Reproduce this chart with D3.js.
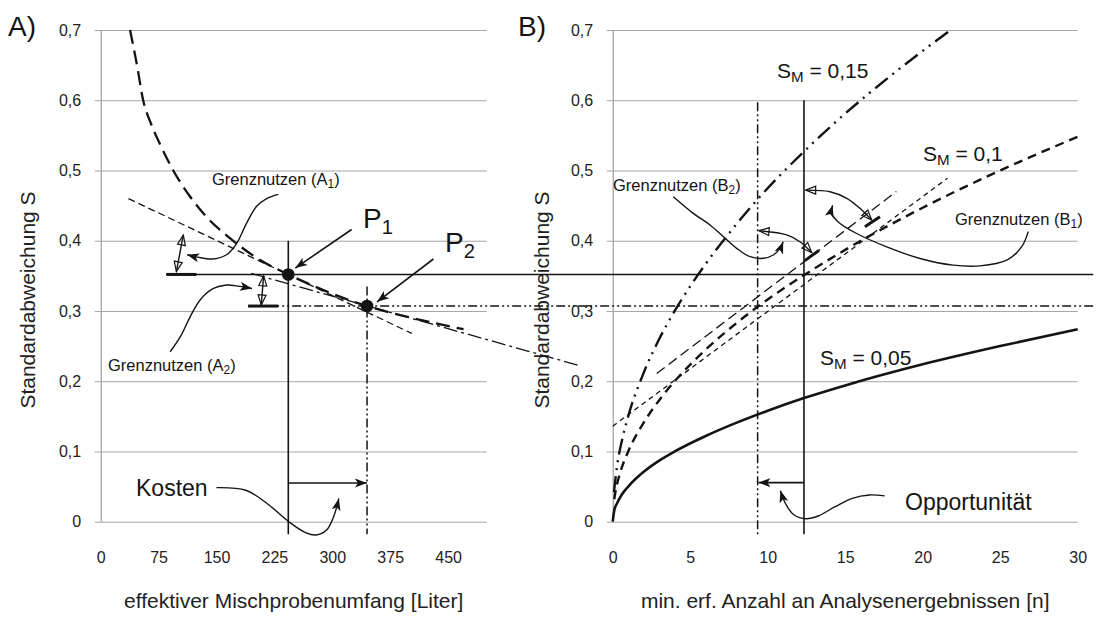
<!DOCTYPE html>
<html>
<head>
<meta charset="utf-8">
<script src="https://cdnjs.cloudflare.com/ajax/libs/d3/7.8.5/d3.min.js"></script>
<style>
  body { margin: 0; background: #fff; }
  svg { display: block; font-family: "Liberation Sans", Arial, sans-serif; }
</style>
</head>
<body>
<svg id="chart" width="1099" height="617"></svg>
<script>
// ---- data ----
const yTicks = [0, 0.1, 0.2, 0.3, 0.4, 0.5, 0.6, 0.7];
const xTicksA = [0, 75, 150, 225, 300, 375, 450];
const xTicksB = [0, 5, 10, 15, 20, 25, 30];

// panel A: liters vs. standard deviation
const curveA = [[38, 0.70], [47, 0.65], [55, 0.60], [65, 0.567], [77, 0.537], [94, 0.50], [115, 0.464],
                [137, 0.434], [167, 0.404], [200, 0.377], [243, 0.352], [290, 0.329], [345, 0.307],
                [400, 0.291], [470, 0.274]];
const tangentP1 = [[36, 0.46], [403, 0.268]];
const tangentP2 = [[195, 0.3535], [621, 0.222]];
const p1 = [243, 0.352];
const p2 = [345, 0.307];

// panel B: number of results vs. standard deviation, one series per S_M
const sm005 = [[0, 0], [0.1, 0.016], [0.3, 0.027], [0.6, 0.039], [1, 0.05], [2, 0.071], [3, 0.087], [4, 0.1],
               [6, 0.122], [8, 0.141], [10, 0.158], [12.34, 0.176], [15, 0.194], [20, 0.224], [25, 0.25], [30, 0.274]];
const sm01 = [[0.1, 0.032], [0.2, 0.045], [0.5, 0.071], [1, 0.1], [2, 0.141], [3, 0.173], [4, 0.2], [6, 0.245],
              [8, 0.283], [9.35, 0.306], [12.34, 0.351], [15, 0.387], [20, 0.447], [25, 0.5], [30, 0.548]];
const sm015 = [[0.08, 0.042], [0.3, 0.082], [0.6, 0.116], [1, 0.15], [2, 0.212], [3, 0.26], [4, 0.3], [6, 0.367],
               [8, 0.424], [9.35, 0.459], [12.34, 0.527], [15, 0.581], [18, 0.636], [21.8, 0.7]];
const tangentB1 = [[0, 0.136], [21.6, 0.489]];
const tangentB2 = [[2.84, 0.211], [18.3, 0.47]];
const nMin = 9.35;
const nOpt = 12.34;

// annotation paths (data coordinates)
const calloutA1 = [[230, 0.466], [215, 0.46], [202, 0.449], [189, 0.425], [176, 0.396], [163, 0.38], [146, 0.374], [124, 0.377], [112, 0.38]];
const calloutA2 = [[90, 0.242], [103, 0.263], [116, 0.292], [129, 0.316], [146, 0.332], [163, 0.337], [180, 0.335], [196, 0.332]];
const gapA1 = [[98, 0.356], [107, 0.408]];
const barA1 = [[85, 0.352], [124, 0.352]];
const gapA2 = [[208, 0.3085], [211, 0.35]];
const barA2 = [[191, 0.307], [230, 0.307]];
const arrowP1 = [[325, 0.416], [252, 0.361]];
const arrowP2 = [[431, 0.374], [358, 0.313]];
const kostenArrow = [[243.6, 0.055], [344.8, 0.055]];
const kostenCallout = [[150, 0.0485], [188, 0.0448], [215.5, 0.0259], [243.7, 0], [265.4, -0.0155], [279, -0.0189],
                       [292.6, -0.0118], [301.7, 0.0071], [308.5, 0.033]];
const calloutB2 = [[3.91, 0.4627], [5.2, 0.439], [6.28, 0.4224], [7.14, 0.4057], [8.0, 0.3892], [8.86, 0.3773],
                   [9.72, 0.375], [10.36, 0.3797], [10.79, 0.3892], [11.0, 0.3986]];
const gapB2 = [[9.44, 0.4143], [11.23, 0.4083], [12.08, 0.3986], [12.84, 0.383]];
const barB2 = [[12.4, 0.3717], [13.3, 0.3862]];
const gapB1 = [[12.45, 0.472], [14.02, 0.4698], [15.1, 0.4604], [15.95, 0.4462], [16.71, 0.4295]];
const barB1 = [[16.27, 0.42], [17.24, 0.434]];
const calloutB1 = [[26.81, 0.4129], [26.39, 0.3915], [25.42, 0.3723], [23.7, 0.3642], [21.97, 0.3652], [19.83, 0.3747],
                   [17.68, 0.3913], [15.74, 0.4103], [14.55, 0.4268], [14.13, 0.4387], [14.19, 0.4505]];
const oppArrow = [[nOpt, 0.0557], [nMin + 0.05, 0.0557]];
const oppCallout = [[17.55, 0.0367], [16.56, 0.0381], [15.45, 0.0333], [14.35, 0.0214], [13.25, 0.0081], [12.47, 0.0043],
                    [11.7, 0.0095], [11.26, 0.0214], [10.99, 0.0333], [10.82, 0.0443]];

// ---- scales ----
const svg = d3.select("#chart");
const ink = "#141414";
const yS = d3.scaleLinear().domain([0, 0.7]).range([521.7, 30]);
const xA = d3.scaleLinear().domain([0, 500]).range([100.7, 486.7]);
const xB = d3.scaleLinear().domain([0, 30]).range([612.7, 1077.7]);

const defs = svg.append("defs");
defs.append("marker")
    .attr("id", "head")
    .attr("viewBox", "0 -6 13 12")
    .attr("refX", 12).attr("refY", 0)
    .attr("markerWidth", 13).attr("markerHeight", 12)
    .attr("markerUnits", "userSpaceOnUse")
    .attr("orient", "auto")
  .append("path")
    .attr("d", "M0,-4.5L12,0L0,4.5L3,0Z")
    .attr("fill", ink);
defs.append("marker")
    .attr("id", "open")
    .attr("viewBox", "-1 -6 13 12")
    .attr("refX", 11).attr("refY", 0)
    .attr("markerWidth", 13).attr("markerHeight", 12)
    .attr("markerUnits", "userSpaceOnUse")
    .attr("orient", "auto-start-reverse")
  .append("path")
    .attr("d", "M1,-4L11,0L1,4Z")
    .attr("fill", "none")
    .attr("stroke", ink)
    .attr("stroke-width", 1.2);

const fmt = d => d === 0 ? "0" : d.toFixed(1).replace(".", ",");

function drawAxes(x, ticks, title, yTitleX) {
    const w = x.range()[1] - x.range()[0];
    const gy = svg.append("g")
        .attr("transform", "translate(" + x(0) + ",0)")
        .call(d3.axisLeft(yS).tickValues(yTicks).tickSizeInner(-w).tickSizeOuter(0).tickPadding(19.5).tickFormat(fmt));
    gy.attr("font-family", null);
    gy.select(".domain").attr("stroke", "#8a8a8a");
    gy.selectAll(".tick line").attr("x1", -6).attr("stroke", "#a6a6a6");
    gy.selectAll(".tick text").attr("font-size", 16).attr("fill", "#222");

    const gx = svg.append("g")
        .attr("transform", "translate(0," + yS(0) + ")")
        .call(d3.axisBottom(x).tickValues(ticks).tickSize(0).tickPadding(30));
    gx.attr("font-family", null);
    gx.select(".domain").remove();
    gx.selectAll(".tick text").attr("font-size", 16).attr("fill", "#222");

    svg.append("text")
        .attr("x", (x.range()[0] + x.range()[1]) / 2)
        .attr("y", 608)
        .attr("text-anchor", "middle")
        .attr("font-size", 21)
        .attr("fill", "#222")
        .text(title);

    svg.append("text")
        .attr("transform", "translate(" + yTitleX + ",300) rotate(-90)")
        .attr("text-anchor", "middle")
        .attr("font-size", 21)
        .attr("fill", "#222")
        .text("Standardabweichung S");
}

drawAxes(xA, xTicksA, "effektiver Mischprobenumfang [Liter]", 35);
drawAxes(xB, xTicksB, "min. erf. Anzahl an Analysenergebnissen [n]", 549);

function path(x, data, width, dash, curve) {
    return svg.append("path")
        .datum(data)
        .attr("fill", "none")
        .attr("stroke", ink)
        .attr("stroke-width", width)
        .attr("stroke-dasharray", dash)
        .attr("d", d3.line().x(d => x(d[0])).y(d => yS(d[1])).curve(curve || d3.curveLinear));
}

const dashDot = "9,3,2,3,2,3";

// reference levels through P1 / P2, from their marker bars across into panel B
svg.append("line")
    .attr("x1", xA(barA1[0][0])).attr("x2", xB(31))
    .attr("y1", yS(p1[1])).attr("y2", yS(p1[1]))
    .attr("stroke", ink).attr("stroke-width", 1.6);
svg.append("line")
    .attr("x1", xA(barA2[0][0])).attr("x2", xB(31))
    .attr("y1", yS(p2[1])).attr("y2", yS(p2[1]))
    .attr("stroke", ink).attr("stroke-width", 1.5).attr("stroke-dasharray", dashDot);

// panel A
path(xA, [[p1[0], 0.4], [p1[0], -0.018]], 1.6, null);
path(xA, [[p2[0], 0.335], [p2[0], -0.018]], 1.5, dashDot);
path(xA, tangentP1, 1.3, "7,4");
path(xA, tangentP2, 1.3, "14,4,3,4");
path(xA, curveA, 2.3, "14,7", d3.curveMonotoneX);

svg.selectAll(".pt")
    .data([p1, p2])
    .join("circle")
    .attr("cx", d => xA(d[0]))
    .attr("cy", d => yS(d[1]))
    .attr("r", 6.3)
    .attr("fill", ink);

path(xA, barA1, 3, null);
path(xA, barA2, 3, null);
path(xA, gapA1, 1.4, null).attr("marker-start", "url(#open)").attr("marker-end", "url(#open)");
path(xA, gapA2, 1.4, null).attr("marker-start", "url(#open)").attr("marker-end", "url(#open)");
path(xA, calloutA1, 1.4, null, d3.curveCatmullRom).attr("marker-end", "url(#head)");
path(xA, calloutA2, 1.4, null, d3.curveCatmullRom).attr("marker-end", "url(#head)");
path(xA, arrowP1, 1.6, null).attr("marker-end", "url(#head)");
path(xA, arrowP2, 1.6, null).attr("marker-end", "url(#head)");
path(xA, kostenArrow, 1.6, null).attr("marker-end", "url(#head)");
path(xA, kostenCallout, 1.4, null, d3.curveCatmullRom).attr("marker-end", "url(#head)");

// panel B
path(xB, [[nMin, 0.597], [nMin, -0.018]], 1.5, dashDot);
path(xB, [[nOpt, 0.6], [nOpt, -0.018]], 1.6, null);
path(xB, tangentB1, 1.3, "5,4");
path(xB, tangentB2, 1.3, "10,5");
path(xB, sm005, 2.6, null, d3.curveMonotoneX);
path(xB, sm01, 2.4, "9,6", d3.curveMonotoneX);
path(xB, sm015, 2.4, "16,6,2,6,2,6", d3.curveMonotoneX);

path(xB, barB1, 3, null);
path(xB, barB2, 3, null);
path(xB, gapB1, 1.4, null, d3.curveCatmullRom).attr("marker-start", "url(#open)").attr("marker-end", "url(#open)");
path(xB, gapB2, 1.4, null, d3.curveCatmullRom).attr("marker-start", "url(#open)").attr("marker-end", "url(#open)");
path(xB, calloutB1, 1.4, null, d3.curveCatmullRom).attr("marker-end", "url(#head)");
path(xB, calloutB2, 1.4, null, d3.curveCatmullRom).attr("marker-end", "url(#head)");
path(xB, oppArrow, 1.6, null).attr("marker-end", "url(#head)");
path(xB, oppCallout, 1.4, null, d3.curveCatmullRom).attr("marker-end", "url(#head)");

// ---- labels ----
function label(x, y, size, parts) {
    const t = svg.append("text").attr("x", x).attr("y", y).attr("font-size", size).attr("fill", ink);
    let shifted = false;
    parts.forEach(p => {
        const sub = Array.isArray(p);
        const s = t.append("tspan").text(sub ? p[0] : p);
        if (sub) {
            s.attr("font-size", size * 0.72).attr("dy", size * 0.2);
            shifted = true;
        } else if (shifted) {
            s.attr("dy", -size * 0.2);
            shifted = false;
        }
    });
    return t;
}

label(8, 36, 28, ["A)"]);
label(518, 36, 28, ["B)"]);
label(363, 228, 28, ["P", ["1"]]);
label(445, 252, 28, ["P", ["2"]]);
label(212, 185, 16.5, ["Grenznutzen (A", ["1"], ")"]);
label(108, 371, 16.5, ["Grenznutzen (A", ["2"], ")"]);
label(613, 191, 16.5, ["Grenznutzen (B", ["2"], ")"]);
label(955, 225, 16.5, ["Grenznutzen (B", ["1"], ")"]);
label(777, 78, 21, ["S", ["M"], " = 0,15"]);
label(923, 161, 21, ["S", ["M"], " = 0,1"]);
label(820, 365, 21, ["S", ["M"], " = 0,05"]);
label(136, 496, 23, ["Kosten"]);
label(905, 510, 23, ["Opportunität"]);
</script>
</body>
</html>
